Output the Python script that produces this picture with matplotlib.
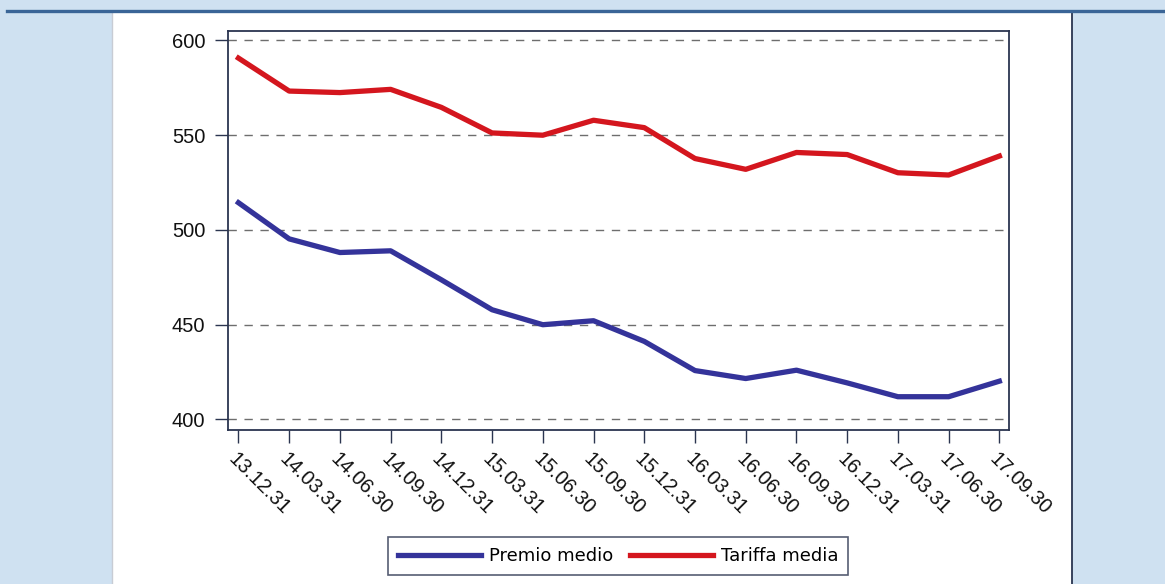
import matplotlib
matplotlib.use("Agg")
import matplotlib.pyplot as plt
from matplotlib.patches import Rectangle
from matplotlib.lines import Line2D

plt.rcParams['font.family'] = ['Liberation Sans', 'DejaVu Sans']

# dati
date = ['13.12.31', '14.03.31', '14.06.30', '14.09.30', '14.12.31', '15.03.31',
        '15.06.30', '15.09.30', '15.12.31', '16.03.31', '16.06.30', '16.09.30',
        '16.12.31', '17.03.31', '17.06.30', '17.09.30']
premio_medio = [514.4, 495.3, 488.1, 489.0, 473.7, 457.9, 450.0, 452.1,
                441.2, 425.8, 421.6, 426.0, 419.3, 412.0, 412.0, 420.2]
tariffa_media = [590.7, 573.3, 572.5, 574.2, 564.7, 551.2, 550.0, 557.9,
                 554.0, 537.7, 532.0, 540.9, 539.8, 530.2, 529.0, 539.0]
y_ticks = [400, 450, 500, 550, 600]

W, H = 1165, 584
fig = plt.figure(figsize=(W / 100, H / 100), dpi=100)
fig.patch.set_facecolor('#cfe1f1')

# pannello bianco e riga blu in alto
fig.add_artist(Rectangle((111.5 / W, 0), (1072 - 111.5) / W, 1 - 12.5 / H,
                         transform=fig.transFigure, facecolor='white',
                         edgecolor='none', zorder=0))
fig.add_artist(Line2D([111.5 / W, 111.5 / W], [0, 1 - 12.5 / H], transform=fig.transFigure,
                      color='#c8ccd4', lw=1, zorder=1))
fig.add_artist(Line2D([1072 / W, 1072 / W], [0, 1 - 12.5 / H], transform=fig.transFigure,
                      color='#2a3550', lw=1.3, zorder=1))
fig.add_artist(Line2D([7 / W, 1], [1 - 11.3 / H, 1 - 11.3 / H], transform=fig.transFigure,
                      color='#3a6597', lw=2.4, zorder=1))

ax = fig.add_axes([228.3 / W, 1 - 429.5 / H, (1009 - 228.3) / W, (429.5 - 31) / H])
x = list(range(len(date)))

ax.plot(x, premio_medio, color='#34339a', lw=3.8, label='Premio medio',
        solid_joinstyle='round', zorder=3)
ax.plot(x, tariffa_media, color='#d4161e', lw=3.8, label='Tariffa media',
        solid_joinstyle='round', zorder=3)

ax.set_xlim(-0.2, 15.19)
ax.set_ylim(394.7, 605)
ax.set_yticks(y_ticks)
ax.set_xticks(x)
ax.set_xticklabels(date, rotation=-45, ha='left', va='top', rotation_mode='anchor')

ax.yaxis.grid(True, linestyle=(0, (6, 5.5)), color='#6e6e6e', lw=1)
ax.set_axisbelow(True)

for s in ax.spines.values():
    s.set_color('#2b3550')
    s.set_linewidth(1.3)

ax.tick_params(axis='both', direction='out', length=9.5, width=1, color='#2b3550',
               labelsize=14.5, labelcolor='#111111')
ax.tick_params(axis='y', pad=7)
ax.tick_params(axis='x', pad=5)

leg = fig.legend(loc='center', bbox_to_anchor=(618 / W, 1 - 556 / H), ncol=2,
                 prop={'family': 'DejaVu Sans', 'size': 13}, frameon=True,
                 fancybox=False, handlelength=4.6, handletextpad=0.45,
                 columnspacing=0.9, borderpad=0.55, borderaxespad=0)
leg.get_frame().set_edgecolor('#2b3550')
leg.get_frame().set_linewidth(1.2)

fig.savefig('out.png', dpi=100, facecolor=fig.get_facecolor())
